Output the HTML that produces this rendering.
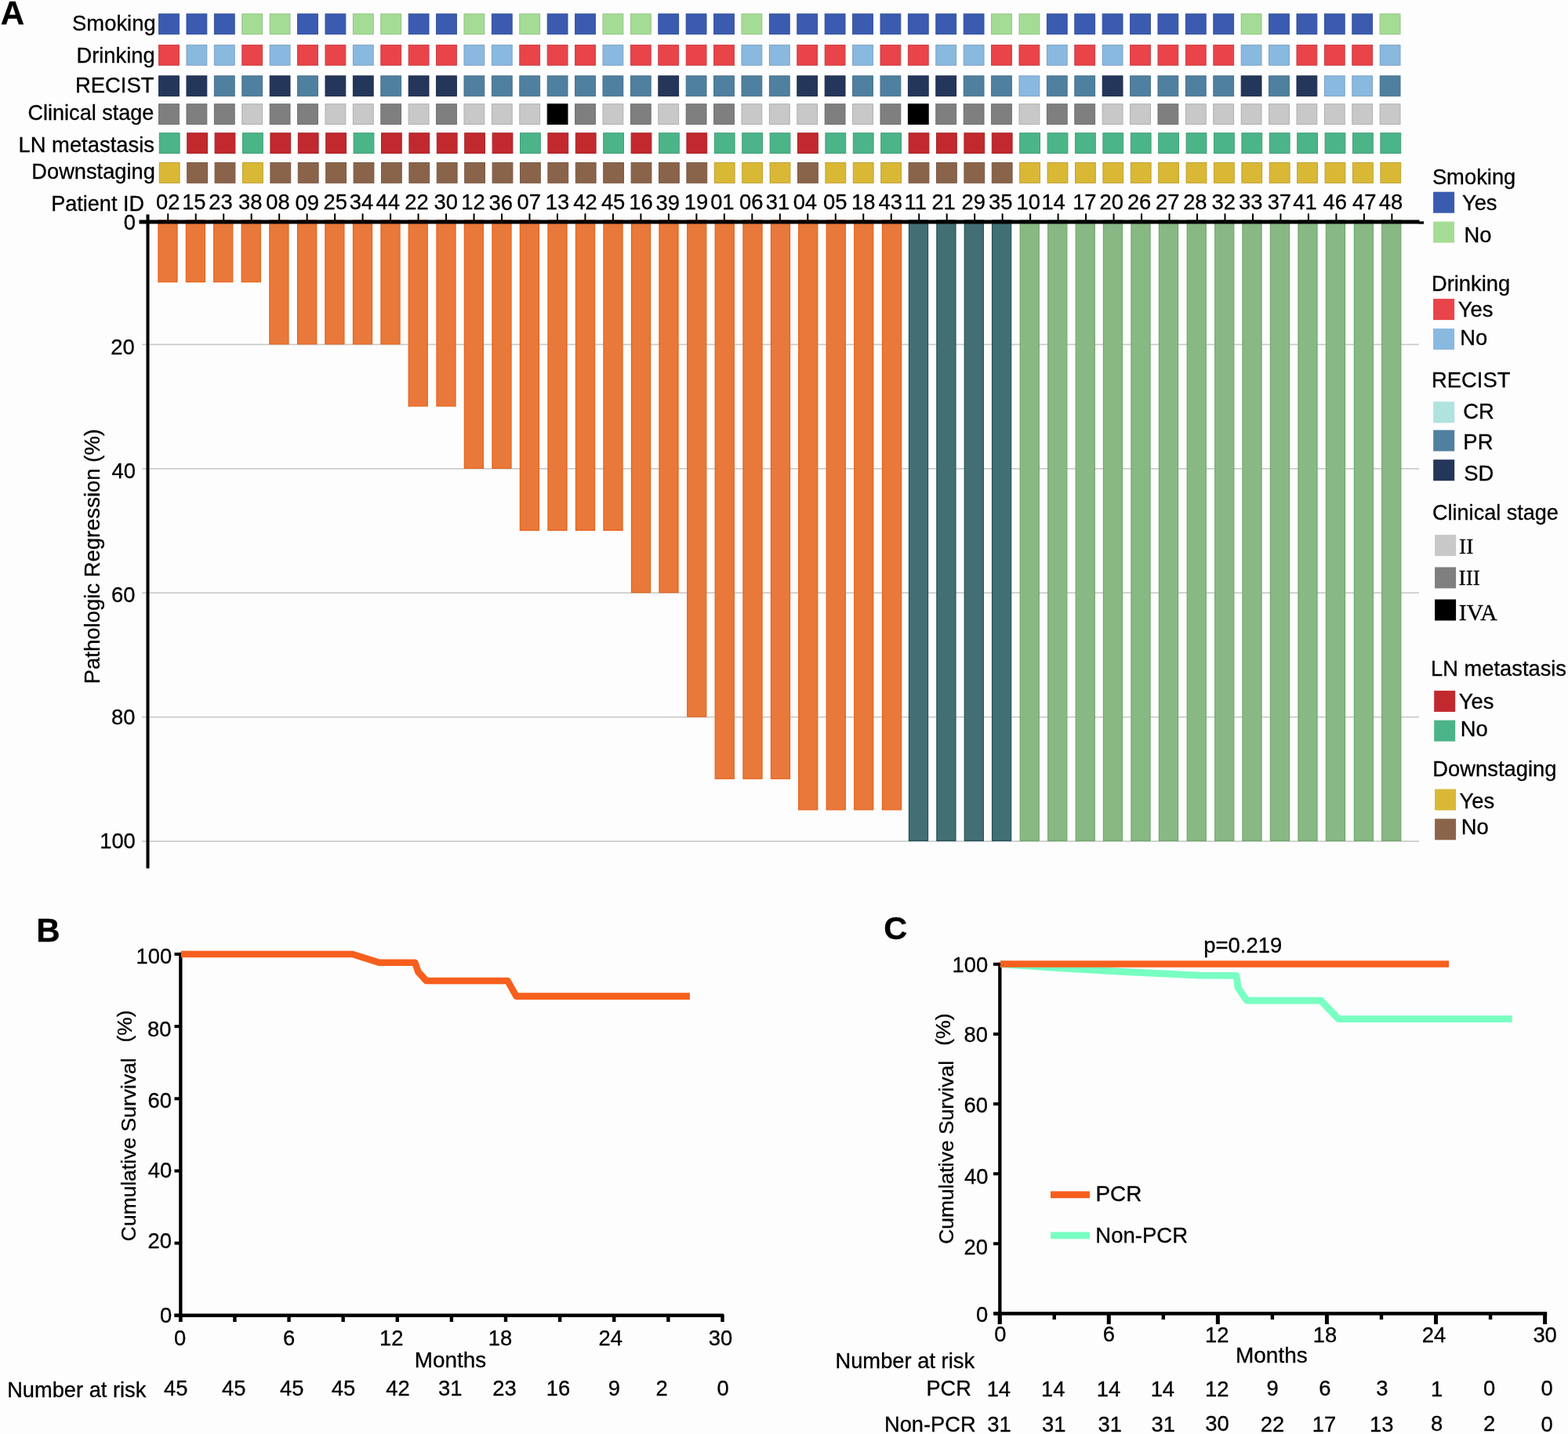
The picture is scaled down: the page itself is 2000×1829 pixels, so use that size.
<!DOCTYPE html>
<html><head><meta charset="utf-8"><title>Figure</title>
<style>
html,body{margin:0;padding:0;background:#fdfdfd;width:2000px;height:1829px;overflow:hidden}
svg{display:block}
text{font-family:'Liberation Sans',Arial,Helvetica,sans-serif;fill:#000;stroke:#000;stroke-width:0.3px}
</style></head><body>
<svg width="2000" height="1829" viewBox="0 0 2000 1829">
<rect x="0" y="0" width="2000" height="1829" fill="#fdfdfd"/>
<text x="0.80" y="30.63" font-size="42.05" font-weight="bold">A</text>
<text x="198.63" y="39.13" font-size="27.38" text-anchor="end">Smoking</text>
<text x="197.71" y="80.03" font-size="27.35" text-anchor="end">Drinking</text>
<text x="196.55" y="117.73" font-size="27.44" text-anchor="end">RECIST</text>
<text x="196.39" y="153.16" font-size="27.05" text-anchor="end">Clinical stage</text>
<text x="196.99" y="193.55" font-size="27.40" text-anchor="end">LN metastasis</text>
<text x="197.86" y="228.03" font-size="27.25" text-anchor="end">Downstaging</text>
<rect x="202.60" y="17.80" width="25.8" height="25.8" fill="#3b5bb0" stroke="#33509a" stroke-width="1"/>
<rect x="238.00" y="17.80" width="25.8" height="25.8" fill="#3b5bb0" stroke="#33509a" stroke-width="1"/>
<rect x="273.40" y="17.80" width="25.8" height="25.8" fill="#3b5bb0" stroke="#33509a" stroke-width="1"/>
<rect x="308.80" y="17.80" width="25.8" height="25.8" fill="#a5dc95" stroke="#91c183" stroke-width="1"/>
<rect x="344.20" y="17.80" width="25.8" height="25.8" fill="#a5dc95" stroke="#91c183" stroke-width="1"/>
<rect x="379.60" y="17.80" width="25.8" height="25.8" fill="#3b5bb0" stroke="#33509a" stroke-width="1"/>
<rect x="415.00" y="17.80" width="25.8" height="25.8" fill="#3b5bb0" stroke="#33509a" stroke-width="1"/>
<rect x="450.40" y="17.80" width="25.8" height="25.8" fill="#a5dc95" stroke="#91c183" stroke-width="1"/>
<rect x="485.80" y="17.80" width="25.8" height="25.8" fill="#a5dc95" stroke="#91c183" stroke-width="1"/>
<rect x="521.20" y="17.80" width="25.8" height="25.8" fill="#3b5bb0" stroke="#33509a" stroke-width="1"/>
<rect x="556.60" y="17.80" width="25.8" height="25.8" fill="#3b5bb0" stroke="#33509a" stroke-width="1"/>
<rect x="592.00" y="17.80" width="25.8" height="25.8" fill="#a5dc95" stroke="#91c183" stroke-width="1"/>
<rect x="627.40" y="17.80" width="25.8" height="25.8" fill="#3b5bb0" stroke="#33509a" stroke-width="1"/>
<rect x="662.80" y="17.80" width="25.8" height="25.8" fill="#a5dc95" stroke="#91c183" stroke-width="1"/>
<rect x="698.20" y="17.80" width="25.8" height="25.8" fill="#3b5bb0" stroke="#33509a" stroke-width="1"/>
<rect x="733.60" y="17.80" width="25.8" height="25.8" fill="#3b5bb0" stroke="#33509a" stroke-width="1"/>
<rect x="769.00" y="17.80" width="25.8" height="25.8" fill="#a5dc95" stroke="#91c183" stroke-width="1"/>
<rect x="804.40" y="17.80" width="25.8" height="25.8" fill="#a5dc95" stroke="#91c183" stroke-width="1"/>
<rect x="839.80" y="17.80" width="25.8" height="25.8" fill="#3b5bb0" stroke="#33509a" stroke-width="1"/>
<rect x="875.20" y="17.80" width="25.8" height="25.8" fill="#3b5bb0" stroke="#33509a" stroke-width="1"/>
<rect x="910.60" y="17.80" width="25.8" height="25.8" fill="#3b5bb0" stroke="#33509a" stroke-width="1"/>
<rect x="946.00" y="17.80" width="25.8" height="25.8" fill="#a5dc95" stroke="#91c183" stroke-width="1"/>
<rect x="981.40" y="17.80" width="25.8" height="25.8" fill="#3b5bb0" stroke="#33509a" stroke-width="1"/>
<rect x="1016.80" y="17.80" width="25.8" height="25.8" fill="#3b5bb0" stroke="#33509a" stroke-width="1"/>
<rect x="1052.20" y="17.80" width="25.8" height="25.8" fill="#3b5bb0" stroke="#33509a" stroke-width="1"/>
<rect x="1087.60" y="17.80" width="25.8" height="25.8" fill="#3b5bb0" stroke="#33509a" stroke-width="1"/>
<rect x="1123.00" y="17.80" width="25.8" height="25.8" fill="#3b5bb0" stroke="#33509a" stroke-width="1"/>
<rect x="1158.40" y="17.80" width="25.8" height="25.8" fill="#3b5bb0" stroke="#33509a" stroke-width="1"/>
<rect x="1193.80" y="17.80" width="25.8" height="25.8" fill="#3b5bb0" stroke="#33509a" stroke-width="1"/>
<rect x="1229.20" y="17.80" width="25.8" height="25.8" fill="#3b5bb0" stroke="#33509a" stroke-width="1"/>
<rect x="1264.60" y="17.80" width="25.8" height="25.8" fill="#a5dc95" stroke="#91c183" stroke-width="1"/>
<rect x="1300.00" y="17.80" width="25.8" height="25.8" fill="#a5dc95" stroke="#91c183" stroke-width="1"/>
<rect x="1335.40" y="17.80" width="25.8" height="25.8" fill="#3b5bb0" stroke="#33509a" stroke-width="1"/>
<rect x="1370.80" y="17.80" width="25.8" height="25.8" fill="#3b5bb0" stroke="#33509a" stroke-width="1"/>
<rect x="1406.20" y="17.80" width="25.8" height="25.8" fill="#3b5bb0" stroke="#33509a" stroke-width="1"/>
<rect x="1441.60" y="17.80" width="25.8" height="25.8" fill="#3b5bb0" stroke="#33509a" stroke-width="1"/>
<rect x="1477.00" y="17.80" width="25.8" height="25.8" fill="#3b5bb0" stroke="#33509a" stroke-width="1"/>
<rect x="1512.40" y="17.80" width="25.8" height="25.8" fill="#3b5bb0" stroke="#33509a" stroke-width="1"/>
<rect x="1547.80" y="17.80" width="25.8" height="25.8" fill="#3b5bb0" stroke="#33509a" stroke-width="1"/>
<rect x="1583.20" y="17.80" width="25.8" height="25.8" fill="#a5dc95" stroke="#91c183" stroke-width="1"/>
<rect x="1618.60" y="17.80" width="25.8" height="25.8" fill="#3b5bb0" stroke="#33509a" stroke-width="1"/>
<rect x="1654.00" y="17.80" width="25.8" height="25.8" fill="#3b5bb0" stroke="#33509a" stroke-width="1"/>
<rect x="1689.40" y="17.80" width="25.8" height="25.8" fill="#3b5bb0" stroke="#33509a" stroke-width="1"/>
<rect x="1724.80" y="17.80" width="25.8" height="25.8" fill="#3b5bb0" stroke="#33509a" stroke-width="1"/>
<rect x="1760.20" y="17.80" width="25.8" height="25.8" fill="#a5dc95" stroke="#91c183" stroke-width="1"/>
<rect x="202.60" y="57.40" width="25.8" height="25.8" fill="#e8444a" stroke="#cc3b41" stroke-width="1"/>
<rect x="238.00" y="57.40" width="25.8" height="25.8" fill="#8ab9e0" stroke="#79a2c5" stroke-width="1"/>
<rect x="273.40" y="57.40" width="25.8" height="25.8" fill="#8ab9e0" stroke="#79a2c5" stroke-width="1"/>
<rect x="308.80" y="57.40" width="25.8" height="25.8" fill="#e8444a" stroke="#cc3b41" stroke-width="1"/>
<rect x="344.20" y="57.40" width="25.8" height="25.8" fill="#8ab9e0" stroke="#79a2c5" stroke-width="1"/>
<rect x="379.60" y="57.40" width="25.8" height="25.8" fill="#e8444a" stroke="#cc3b41" stroke-width="1"/>
<rect x="415.00" y="57.40" width="25.8" height="25.8" fill="#e8444a" stroke="#cc3b41" stroke-width="1"/>
<rect x="450.40" y="57.40" width="25.8" height="25.8" fill="#8ab9e0" stroke="#79a2c5" stroke-width="1"/>
<rect x="485.80" y="57.40" width="25.8" height="25.8" fill="#e8444a" stroke="#cc3b41" stroke-width="1"/>
<rect x="521.20" y="57.40" width="25.8" height="25.8" fill="#e8444a" stroke="#cc3b41" stroke-width="1"/>
<rect x="556.60" y="57.40" width="25.8" height="25.8" fill="#e8444a" stroke="#cc3b41" stroke-width="1"/>
<rect x="592.00" y="57.40" width="25.8" height="25.8" fill="#8ab9e0" stroke="#79a2c5" stroke-width="1"/>
<rect x="627.40" y="57.40" width="25.8" height="25.8" fill="#8ab9e0" stroke="#79a2c5" stroke-width="1"/>
<rect x="662.80" y="57.40" width="25.8" height="25.8" fill="#e8444a" stroke="#cc3b41" stroke-width="1"/>
<rect x="698.20" y="57.40" width="25.8" height="25.8" fill="#e8444a" stroke="#cc3b41" stroke-width="1"/>
<rect x="733.60" y="57.40" width="25.8" height="25.8" fill="#e8444a" stroke="#cc3b41" stroke-width="1"/>
<rect x="769.00" y="57.40" width="25.8" height="25.8" fill="#8ab9e0" stroke="#79a2c5" stroke-width="1"/>
<rect x="804.40" y="57.40" width="25.8" height="25.8" fill="#e8444a" stroke="#cc3b41" stroke-width="1"/>
<rect x="839.80" y="57.40" width="25.8" height="25.8" fill="#e8444a" stroke="#cc3b41" stroke-width="1"/>
<rect x="875.20" y="57.40" width="25.8" height="25.8" fill="#e8444a" stroke="#cc3b41" stroke-width="1"/>
<rect x="910.60" y="57.40" width="25.8" height="25.8" fill="#e8444a" stroke="#cc3b41" stroke-width="1"/>
<rect x="946.00" y="57.40" width="25.8" height="25.8" fill="#8ab9e0" stroke="#79a2c5" stroke-width="1"/>
<rect x="981.40" y="57.40" width="25.8" height="25.8" fill="#8ab9e0" stroke="#79a2c5" stroke-width="1"/>
<rect x="1016.80" y="57.40" width="25.8" height="25.8" fill="#e8444a" stroke="#cc3b41" stroke-width="1"/>
<rect x="1052.20" y="57.40" width="25.8" height="25.8" fill="#e8444a" stroke="#cc3b41" stroke-width="1"/>
<rect x="1087.60" y="57.40" width="25.8" height="25.8" fill="#8ab9e0" stroke="#79a2c5" stroke-width="1"/>
<rect x="1123.00" y="57.40" width="25.8" height="25.8" fill="#e8444a" stroke="#cc3b41" stroke-width="1"/>
<rect x="1158.40" y="57.40" width="25.8" height="25.8" fill="#e8444a" stroke="#cc3b41" stroke-width="1"/>
<rect x="1193.80" y="57.40" width="25.8" height="25.8" fill="#8ab9e0" stroke="#79a2c5" stroke-width="1"/>
<rect x="1229.20" y="57.40" width="25.8" height="25.8" fill="#8ab9e0" stroke="#79a2c5" stroke-width="1"/>
<rect x="1264.60" y="57.40" width="25.8" height="25.8" fill="#e8444a" stroke="#cc3b41" stroke-width="1"/>
<rect x="1300.00" y="57.40" width="25.8" height="25.8" fill="#e8444a" stroke="#cc3b41" stroke-width="1"/>
<rect x="1335.40" y="57.40" width="25.8" height="25.8" fill="#8ab9e0" stroke="#79a2c5" stroke-width="1"/>
<rect x="1370.80" y="57.40" width="25.8" height="25.8" fill="#e8444a" stroke="#cc3b41" stroke-width="1"/>
<rect x="1406.20" y="57.40" width="25.8" height="25.8" fill="#8ab9e0" stroke="#79a2c5" stroke-width="1"/>
<rect x="1441.60" y="57.40" width="25.8" height="25.8" fill="#e8444a" stroke="#cc3b41" stroke-width="1"/>
<rect x="1477.00" y="57.40" width="25.8" height="25.8" fill="#e8444a" stroke="#cc3b41" stroke-width="1"/>
<rect x="1512.40" y="57.40" width="25.8" height="25.8" fill="#e8444a" stroke="#cc3b41" stroke-width="1"/>
<rect x="1547.80" y="57.40" width="25.8" height="25.8" fill="#e8444a" stroke="#cc3b41" stroke-width="1"/>
<rect x="1583.20" y="57.40" width="25.8" height="25.8" fill="#8ab9e0" stroke="#79a2c5" stroke-width="1"/>
<rect x="1618.60" y="57.40" width="25.8" height="25.8" fill="#8ab9e0" stroke="#79a2c5" stroke-width="1"/>
<rect x="1654.00" y="57.40" width="25.8" height="25.8" fill="#e8444a" stroke="#cc3b41" stroke-width="1"/>
<rect x="1689.40" y="57.40" width="25.8" height="25.8" fill="#e8444a" stroke="#cc3b41" stroke-width="1"/>
<rect x="1724.80" y="57.40" width="25.8" height="25.8" fill="#e8444a" stroke="#cc3b41" stroke-width="1"/>
<rect x="1760.20" y="57.40" width="25.8" height="25.8" fill="#8ab9e0" stroke="#79a2c5" stroke-width="1"/>
<rect x="202.60" y="96.80" width="25.8" height="25.8" fill="#243659" stroke="#1f2f4e" stroke-width="1"/>
<rect x="238.00" y="96.80" width="25.8" height="25.8" fill="#243659" stroke="#1f2f4e" stroke-width="1"/>
<rect x="273.40" y="96.80" width="25.8" height="25.8" fill="#50809f" stroke="#46708b" stroke-width="1"/>
<rect x="308.80" y="96.80" width="25.8" height="25.8" fill="#50809f" stroke="#46708b" stroke-width="1"/>
<rect x="344.20" y="96.80" width="25.8" height="25.8" fill="#243659" stroke="#1f2f4e" stroke-width="1"/>
<rect x="379.60" y="96.80" width="25.8" height="25.8" fill="#50809f" stroke="#46708b" stroke-width="1"/>
<rect x="415.00" y="96.80" width="25.8" height="25.8" fill="#243659" stroke="#1f2f4e" stroke-width="1"/>
<rect x="450.40" y="96.80" width="25.8" height="25.8" fill="#243659" stroke="#1f2f4e" stroke-width="1"/>
<rect x="485.80" y="96.80" width="25.8" height="25.8" fill="#50809f" stroke="#46708b" stroke-width="1"/>
<rect x="521.20" y="96.80" width="25.8" height="25.8" fill="#243659" stroke="#1f2f4e" stroke-width="1"/>
<rect x="556.60" y="96.80" width="25.8" height="25.8" fill="#243659" stroke="#1f2f4e" stroke-width="1"/>
<rect x="592.00" y="96.80" width="25.8" height="25.8" fill="#50809f" stroke="#46708b" stroke-width="1"/>
<rect x="627.40" y="96.80" width="25.8" height="25.8" fill="#50809f" stroke="#46708b" stroke-width="1"/>
<rect x="662.80" y="96.80" width="25.8" height="25.8" fill="#50809f" stroke="#46708b" stroke-width="1"/>
<rect x="698.20" y="96.80" width="25.8" height="25.8" fill="#50809f" stroke="#46708b" stroke-width="1"/>
<rect x="733.60" y="96.80" width="25.8" height="25.8" fill="#50809f" stroke="#46708b" stroke-width="1"/>
<rect x="769.00" y="96.80" width="25.8" height="25.8" fill="#50809f" stroke="#46708b" stroke-width="1"/>
<rect x="804.40" y="96.80" width="25.8" height="25.8" fill="#50809f" stroke="#46708b" stroke-width="1"/>
<rect x="839.80" y="96.80" width="25.8" height="25.8" fill="#243659" stroke="#1f2f4e" stroke-width="1"/>
<rect x="875.20" y="96.80" width="25.8" height="25.8" fill="#50809f" stroke="#46708b" stroke-width="1"/>
<rect x="910.60" y="96.80" width="25.8" height="25.8" fill="#50809f" stroke="#46708b" stroke-width="1"/>
<rect x="946.00" y="96.80" width="25.8" height="25.8" fill="#50809f" stroke="#46708b" stroke-width="1"/>
<rect x="981.40" y="96.80" width="25.8" height="25.8" fill="#50809f" stroke="#46708b" stroke-width="1"/>
<rect x="1016.80" y="96.80" width="25.8" height="25.8" fill="#243659" stroke="#1f2f4e" stroke-width="1"/>
<rect x="1052.20" y="96.80" width="25.8" height="25.8" fill="#243659" stroke="#1f2f4e" stroke-width="1"/>
<rect x="1087.60" y="96.80" width="25.8" height="25.8" fill="#50809f" stroke="#46708b" stroke-width="1"/>
<rect x="1123.00" y="96.80" width="25.8" height="25.8" fill="#50809f" stroke="#46708b" stroke-width="1"/>
<rect x="1158.40" y="96.80" width="25.8" height="25.8" fill="#243659" stroke="#1f2f4e" stroke-width="1"/>
<rect x="1193.80" y="96.80" width="25.8" height="25.8" fill="#243659" stroke="#1f2f4e" stroke-width="1"/>
<rect x="1229.20" y="96.80" width="25.8" height="25.8" fill="#50809f" stroke="#46708b" stroke-width="1"/>
<rect x="1264.60" y="96.80" width="25.8" height="25.8" fill="#50809f" stroke="#46708b" stroke-width="1"/>
<rect x="1300.00" y="96.80" width="25.8" height="25.8" fill="#8ab9e0" stroke="#79a2c5" stroke-width="1"/>
<rect x="1335.40" y="96.80" width="25.8" height="25.8" fill="#50809f" stroke="#46708b" stroke-width="1"/>
<rect x="1370.80" y="96.80" width="25.8" height="25.8" fill="#50809f" stroke="#46708b" stroke-width="1"/>
<rect x="1406.20" y="96.80" width="25.8" height="25.8" fill="#243659" stroke="#1f2f4e" stroke-width="1"/>
<rect x="1441.60" y="96.80" width="25.8" height="25.8" fill="#50809f" stroke="#46708b" stroke-width="1"/>
<rect x="1477.00" y="96.80" width="25.8" height="25.8" fill="#50809f" stroke="#46708b" stroke-width="1"/>
<rect x="1512.40" y="96.80" width="25.8" height="25.8" fill="#50809f" stroke="#46708b" stroke-width="1"/>
<rect x="1547.80" y="96.80" width="25.8" height="25.8" fill="#50809f" stroke="#46708b" stroke-width="1"/>
<rect x="1583.20" y="96.80" width="25.8" height="25.8" fill="#243659" stroke="#1f2f4e" stroke-width="1"/>
<rect x="1618.60" y="96.80" width="25.8" height="25.8" fill="#50809f" stroke="#46708b" stroke-width="1"/>
<rect x="1654.00" y="96.80" width="25.8" height="25.8" fill="#243659" stroke="#1f2f4e" stroke-width="1"/>
<rect x="1689.40" y="96.80" width="25.8" height="25.8" fill="#8ab9e0" stroke="#79a2c5" stroke-width="1"/>
<rect x="1724.80" y="96.80" width="25.8" height="25.8" fill="#8ab9e0" stroke="#79a2c5" stroke-width="1"/>
<rect x="1760.20" y="96.80" width="25.8" height="25.8" fill="#50809f" stroke="#46708b" stroke-width="1"/>
<rect x="202.60" y="132.70" width="25.8" height="25.8" fill="#7f7f7f" stroke="#6f6f6f" stroke-width="1"/>
<rect x="238.00" y="132.70" width="25.8" height="25.8" fill="#7f7f7f" stroke="#6f6f6f" stroke-width="1"/>
<rect x="273.40" y="132.70" width="25.8" height="25.8" fill="#7f7f7f" stroke="#6f6f6f" stroke-width="1"/>
<rect x="308.80" y="132.70" width="25.8" height="25.8" fill="#c8c8c8" stroke="#b0b0b0" stroke-width="1"/>
<rect x="344.20" y="132.70" width="25.8" height="25.8" fill="#7f7f7f" stroke="#6f6f6f" stroke-width="1"/>
<rect x="379.60" y="132.70" width="25.8" height="25.8" fill="#7f7f7f" stroke="#6f6f6f" stroke-width="1"/>
<rect x="415.00" y="132.70" width="25.8" height="25.8" fill="#c8c8c8" stroke="#b0b0b0" stroke-width="1"/>
<rect x="450.40" y="132.70" width="25.8" height="25.8" fill="#c8c8c8" stroke="#b0b0b0" stroke-width="1"/>
<rect x="485.80" y="132.70" width="25.8" height="25.8" fill="#7f7f7f" stroke="#6f6f6f" stroke-width="1"/>
<rect x="521.20" y="132.70" width="25.8" height="25.8" fill="#c8c8c8" stroke="#b0b0b0" stroke-width="1"/>
<rect x="556.60" y="132.70" width="25.8" height="25.8" fill="#7f7f7f" stroke="#6f6f6f" stroke-width="1"/>
<rect x="592.00" y="132.70" width="25.8" height="25.8" fill="#c8c8c8" stroke="#b0b0b0" stroke-width="1"/>
<rect x="627.40" y="132.70" width="25.8" height="25.8" fill="#c8c8c8" stroke="#b0b0b0" stroke-width="1"/>
<rect x="662.80" y="132.70" width="25.8" height="25.8" fill="#c8c8c8" stroke="#b0b0b0" stroke-width="1"/>
<rect x="698.20" y="132.70" width="25.8" height="25.8" fill="#000000" stroke="#000000" stroke-width="1"/>
<rect x="733.60" y="132.70" width="25.8" height="25.8" fill="#7f7f7f" stroke="#6f6f6f" stroke-width="1"/>
<rect x="769.00" y="132.70" width="25.8" height="25.8" fill="#c8c8c8" stroke="#b0b0b0" stroke-width="1"/>
<rect x="804.40" y="132.70" width="25.8" height="25.8" fill="#7f7f7f" stroke="#6f6f6f" stroke-width="1"/>
<rect x="839.80" y="132.70" width="25.8" height="25.8" fill="#c8c8c8" stroke="#b0b0b0" stroke-width="1"/>
<rect x="875.20" y="132.70" width="25.8" height="25.8" fill="#7f7f7f" stroke="#6f6f6f" stroke-width="1"/>
<rect x="910.60" y="132.70" width="25.8" height="25.8" fill="#7f7f7f" stroke="#6f6f6f" stroke-width="1"/>
<rect x="946.00" y="132.70" width="25.8" height="25.8" fill="#c8c8c8" stroke="#b0b0b0" stroke-width="1"/>
<rect x="981.40" y="132.70" width="25.8" height="25.8" fill="#c8c8c8" stroke="#b0b0b0" stroke-width="1"/>
<rect x="1016.80" y="132.70" width="25.8" height="25.8" fill="#c8c8c8" stroke="#b0b0b0" stroke-width="1"/>
<rect x="1052.20" y="132.70" width="25.8" height="25.8" fill="#7f7f7f" stroke="#6f6f6f" stroke-width="1"/>
<rect x="1087.60" y="132.70" width="25.8" height="25.8" fill="#c8c8c8" stroke="#b0b0b0" stroke-width="1"/>
<rect x="1123.00" y="132.70" width="25.8" height="25.8" fill="#7f7f7f" stroke="#6f6f6f" stroke-width="1"/>
<rect x="1158.40" y="132.70" width="25.8" height="25.8" fill="#000000" stroke="#000000" stroke-width="1"/>
<rect x="1193.80" y="132.70" width="25.8" height="25.8" fill="#7f7f7f" stroke="#6f6f6f" stroke-width="1"/>
<rect x="1229.20" y="132.70" width="25.8" height="25.8" fill="#7f7f7f" stroke="#6f6f6f" stroke-width="1"/>
<rect x="1264.60" y="132.70" width="25.8" height="25.8" fill="#7f7f7f" stroke="#6f6f6f" stroke-width="1"/>
<rect x="1300.00" y="132.70" width="25.8" height="25.8" fill="#c8c8c8" stroke="#b0b0b0" stroke-width="1"/>
<rect x="1335.40" y="132.70" width="25.8" height="25.8" fill="#7f7f7f" stroke="#6f6f6f" stroke-width="1"/>
<rect x="1370.80" y="132.70" width="25.8" height="25.8" fill="#7f7f7f" stroke="#6f6f6f" stroke-width="1"/>
<rect x="1406.20" y="132.70" width="25.8" height="25.8" fill="#c8c8c8" stroke="#b0b0b0" stroke-width="1"/>
<rect x="1441.60" y="132.70" width="25.8" height="25.8" fill="#c8c8c8" stroke="#b0b0b0" stroke-width="1"/>
<rect x="1477.00" y="132.70" width="25.8" height="25.8" fill="#7f7f7f" stroke="#6f6f6f" stroke-width="1"/>
<rect x="1512.40" y="132.70" width="25.8" height="25.8" fill="#c8c8c8" stroke="#b0b0b0" stroke-width="1"/>
<rect x="1547.80" y="132.70" width="25.8" height="25.8" fill="#c8c8c8" stroke="#b0b0b0" stroke-width="1"/>
<rect x="1583.20" y="132.70" width="25.8" height="25.8" fill="#c8c8c8" stroke="#b0b0b0" stroke-width="1"/>
<rect x="1618.60" y="132.70" width="25.8" height="25.8" fill="#c8c8c8" stroke="#b0b0b0" stroke-width="1"/>
<rect x="1654.00" y="132.70" width="25.8" height="25.8" fill="#c8c8c8" stroke="#b0b0b0" stroke-width="1"/>
<rect x="1689.40" y="132.70" width="25.8" height="25.8" fill="#c8c8c8" stroke="#b0b0b0" stroke-width="1"/>
<rect x="1724.80" y="132.70" width="25.8" height="25.8" fill="#c8c8c8" stroke="#b0b0b0" stroke-width="1"/>
<rect x="1760.20" y="132.70" width="25.8" height="25.8" fill="#c8c8c8" stroke="#b0b0b0" stroke-width="1"/>
<rect x="203.30" y="169.70" width="25.8" height="25.8" fill="#4bb488" stroke="#429e77" stroke-width="1"/>
<rect x="238.70" y="169.70" width="25.8" height="25.8" fill="#c1292e" stroke="#a92428" stroke-width="1"/>
<rect x="274.10" y="169.70" width="25.8" height="25.8" fill="#c1292e" stroke="#a92428" stroke-width="1"/>
<rect x="309.50" y="169.70" width="25.8" height="25.8" fill="#4bb488" stroke="#429e77" stroke-width="1"/>
<rect x="344.90" y="169.70" width="25.8" height="25.8" fill="#c1292e" stroke="#a92428" stroke-width="1"/>
<rect x="380.30" y="169.70" width="25.8" height="25.8" fill="#c1292e" stroke="#a92428" stroke-width="1"/>
<rect x="415.70" y="169.70" width="25.8" height="25.8" fill="#c1292e" stroke="#a92428" stroke-width="1"/>
<rect x="451.10" y="169.70" width="25.8" height="25.8" fill="#4bb488" stroke="#429e77" stroke-width="1"/>
<rect x="486.50" y="169.70" width="25.8" height="25.8" fill="#c1292e" stroke="#a92428" stroke-width="1"/>
<rect x="521.90" y="169.70" width="25.8" height="25.8" fill="#c1292e" stroke="#a92428" stroke-width="1"/>
<rect x="557.30" y="169.70" width="25.8" height="25.8" fill="#c1292e" stroke="#a92428" stroke-width="1"/>
<rect x="592.70" y="169.70" width="25.8" height="25.8" fill="#c1292e" stroke="#a92428" stroke-width="1"/>
<rect x="628.10" y="169.70" width="25.8" height="25.8" fill="#c1292e" stroke="#a92428" stroke-width="1"/>
<rect x="663.50" y="169.70" width="25.8" height="25.8" fill="#4bb488" stroke="#429e77" stroke-width="1"/>
<rect x="698.90" y="169.70" width="25.8" height="25.8" fill="#c1292e" stroke="#a92428" stroke-width="1"/>
<rect x="734.30" y="169.70" width="25.8" height="25.8" fill="#c1292e" stroke="#a92428" stroke-width="1"/>
<rect x="769.70" y="169.70" width="25.8" height="25.8" fill="#4bb488" stroke="#429e77" stroke-width="1"/>
<rect x="805.10" y="169.70" width="25.8" height="25.8" fill="#c1292e" stroke="#a92428" stroke-width="1"/>
<rect x="840.50" y="169.70" width="25.8" height="25.8" fill="#4bb488" stroke="#429e77" stroke-width="1"/>
<rect x="875.90" y="169.70" width="25.8" height="25.8" fill="#c1292e" stroke="#a92428" stroke-width="1"/>
<rect x="911.30" y="169.70" width="25.8" height="25.8" fill="#4bb488" stroke="#429e77" stroke-width="1"/>
<rect x="946.70" y="169.70" width="25.8" height="25.8" fill="#4bb488" stroke="#429e77" stroke-width="1"/>
<rect x="982.10" y="169.70" width="25.8" height="25.8" fill="#4bb488" stroke="#429e77" stroke-width="1"/>
<rect x="1017.50" y="169.70" width="25.8" height="25.8" fill="#c1292e" stroke="#a92428" stroke-width="1"/>
<rect x="1052.90" y="169.70" width="25.8" height="25.8" fill="#4bb488" stroke="#429e77" stroke-width="1"/>
<rect x="1088.30" y="169.70" width="25.8" height="25.8" fill="#4bb488" stroke="#429e77" stroke-width="1"/>
<rect x="1123.70" y="169.70" width="25.8" height="25.8" fill="#4bb488" stroke="#429e77" stroke-width="1"/>
<rect x="1159.10" y="169.70" width="25.8" height="25.8" fill="#c1292e" stroke="#a92428" stroke-width="1"/>
<rect x="1194.50" y="169.70" width="25.8" height="25.8" fill="#c1292e" stroke="#a92428" stroke-width="1"/>
<rect x="1229.90" y="169.70" width="25.8" height="25.8" fill="#c1292e" stroke="#a92428" stroke-width="1"/>
<rect x="1265.30" y="169.70" width="25.8" height="25.8" fill="#c1292e" stroke="#a92428" stroke-width="1"/>
<rect x="1300.70" y="169.70" width="25.8" height="25.8" fill="#4bb488" stroke="#429e77" stroke-width="1"/>
<rect x="1336.10" y="169.70" width="25.8" height="25.8" fill="#4bb488" stroke="#429e77" stroke-width="1"/>
<rect x="1371.50" y="169.70" width="25.8" height="25.8" fill="#4bb488" stroke="#429e77" stroke-width="1"/>
<rect x="1406.90" y="169.70" width="25.8" height="25.8" fill="#4bb488" stroke="#429e77" stroke-width="1"/>
<rect x="1442.30" y="169.70" width="25.8" height="25.8" fill="#4bb488" stroke="#429e77" stroke-width="1"/>
<rect x="1477.70" y="169.70" width="25.8" height="25.8" fill="#4bb488" stroke="#429e77" stroke-width="1"/>
<rect x="1513.10" y="169.70" width="25.8" height="25.8" fill="#4bb488" stroke="#429e77" stroke-width="1"/>
<rect x="1548.50" y="169.70" width="25.8" height="25.8" fill="#4bb488" stroke="#429e77" stroke-width="1"/>
<rect x="1583.90" y="169.70" width="25.8" height="25.8" fill="#4bb488" stroke="#429e77" stroke-width="1"/>
<rect x="1619.30" y="169.70" width="25.8" height="25.8" fill="#4bb488" stroke="#429e77" stroke-width="1"/>
<rect x="1654.70" y="169.70" width="25.8" height="25.8" fill="#4bb488" stroke="#429e77" stroke-width="1"/>
<rect x="1690.10" y="169.70" width="25.8" height="25.8" fill="#4bb488" stroke="#429e77" stroke-width="1"/>
<rect x="1725.50" y="169.70" width="25.8" height="25.8" fill="#4bb488" stroke="#429e77" stroke-width="1"/>
<rect x="1760.90" y="169.70" width="25.8" height="25.8" fill="#4bb488" stroke="#429e77" stroke-width="1"/>
<rect x="203.30" y="207.50" width="25.8" height="25.8" fill="#d9b836" stroke="#bea12f" stroke-width="1"/>
<rect x="238.70" y="207.50" width="25.8" height="25.8" fill="#8a644a" stroke="#795841" stroke-width="1"/>
<rect x="274.10" y="207.50" width="25.8" height="25.8" fill="#8a644a" stroke="#795841" stroke-width="1"/>
<rect x="309.50" y="207.50" width="25.8" height="25.8" fill="#d9b836" stroke="#bea12f" stroke-width="1"/>
<rect x="344.90" y="207.50" width="25.8" height="25.8" fill="#8a644a" stroke="#795841" stroke-width="1"/>
<rect x="380.30" y="207.50" width="25.8" height="25.8" fill="#8a644a" stroke="#795841" stroke-width="1"/>
<rect x="415.70" y="207.50" width="25.8" height="25.8" fill="#8a644a" stroke="#795841" stroke-width="1"/>
<rect x="451.10" y="207.50" width="25.8" height="25.8" fill="#8a644a" stroke="#795841" stroke-width="1"/>
<rect x="486.50" y="207.50" width="25.8" height="25.8" fill="#8a644a" stroke="#795841" stroke-width="1"/>
<rect x="521.90" y="207.50" width="25.8" height="25.8" fill="#8a644a" stroke="#795841" stroke-width="1"/>
<rect x="557.30" y="207.50" width="25.8" height="25.8" fill="#8a644a" stroke="#795841" stroke-width="1"/>
<rect x="592.70" y="207.50" width="25.8" height="25.8" fill="#8a644a" stroke="#795841" stroke-width="1"/>
<rect x="628.10" y="207.50" width="25.8" height="25.8" fill="#8a644a" stroke="#795841" stroke-width="1"/>
<rect x="663.50" y="207.50" width="25.8" height="25.8" fill="#8a644a" stroke="#795841" stroke-width="1"/>
<rect x="698.90" y="207.50" width="25.8" height="25.8" fill="#8a644a" stroke="#795841" stroke-width="1"/>
<rect x="734.30" y="207.50" width="25.8" height="25.8" fill="#8a644a" stroke="#795841" stroke-width="1"/>
<rect x="769.70" y="207.50" width="25.8" height="25.8" fill="#8a644a" stroke="#795841" stroke-width="1"/>
<rect x="805.10" y="207.50" width="25.8" height="25.8" fill="#8a644a" stroke="#795841" stroke-width="1"/>
<rect x="840.50" y="207.50" width="25.8" height="25.8" fill="#8a644a" stroke="#795841" stroke-width="1"/>
<rect x="875.90" y="207.50" width="25.8" height="25.8" fill="#8a644a" stroke="#795841" stroke-width="1"/>
<rect x="911.30" y="207.50" width="25.8" height="25.8" fill="#d9b836" stroke="#bea12f" stroke-width="1"/>
<rect x="946.70" y="207.50" width="25.8" height="25.8" fill="#d9b836" stroke="#bea12f" stroke-width="1"/>
<rect x="982.10" y="207.50" width="25.8" height="25.8" fill="#d9b836" stroke="#bea12f" stroke-width="1"/>
<rect x="1017.50" y="207.50" width="25.8" height="25.8" fill="#8a644a" stroke="#795841" stroke-width="1"/>
<rect x="1052.90" y="207.50" width="25.8" height="25.8" fill="#d9b836" stroke="#bea12f" stroke-width="1"/>
<rect x="1088.30" y="207.50" width="25.8" height="25.8" fill="#d9b836" stroke="#bea12f" stroke-width="1"/>
<rect x="1123.70" y="207.50" width="25.8" height="25.8" fill="#d9b836" stroke="#bea12f" stroke-width="1"/>
<rect x="1159.10" y="207.50" width="25.8" height="25.8" fill="#8a644a" stroke="#795841" stroke-width="1"/>
<rect x="1194.50" y="207.50" width="25.8" height="25.8" fill="#8a644a" stroke="#795841" stroke-width="1"/>
<rect x="1229.90" y="207.50" width="25.8" height="25.8" fill="#8a644a" stroke="#795841" stroke-width="1"/>
<rect x="1265.30" y="207.50" width="25.8" height="25.8" fill="#8a644a" stroke="#795841" stroke-width="1"/>
<rect x="1300.70" y="207.50" width="25.8" height="25.8" fill="#d9b836" stroke="#bea12f" stroke-width="1"/>
<rect x="1336.10" y="207.50" width="25.8" height="25.8" fill="#d9b836" stroke="#bea12f" stroke-width="1"/>
<rect x="1371.50" y="207.50" width="25.8" height="25.8" fill="#d9b836" stroke="#bea12f" stroke-width="1"/>
<rect x="1406.90" y="207.50" width="25.8" height="25.8" fill="#d9b836" stroke="#bea12f" stroke-width="1"/>
<rect x="1442.30" y="207.50" width="25.8" height="25.8" fill="#d9b836" stroke="#bea12f" stroke-width="1"/>
<rect x="1477.70" y="207.50" width="25.8" height="25.8" fill="#d9b836" stroke="#bea12f" stroke-width="1"/>
<rect x="1513.10" y="207.50" width="25.8" height="25.8" fill="#d9b836" stroke="#bea12f" stroke-width="1"/>
<rect x="1548.50" y="207.50" width="25.8" height="25.8" fill="#d9b836" stroke="#bea12f" stroke-width="1"/>
<rect x="1583.90" y="207.50" width="25.8" height="25.8" fill="#d9b836" stroke="#bea12f" stroke-width="1"/>
<rect x="1619.30" y="207.50" width="25.8" height="25.8" fill="#d9b836" stroke="#bea12f" stroke-width="1"/>
<rect x="1654.70" y="207.50" width="25.8" height="25.8" fill="#d9b836" stroke="#bea12f" stroke-width="1"/>
<rect x="1690.10" y="207.50" width="25.8" height="25.8" fill="#d9b836" stroke="#bea12f" stroke-width="1"/>
<rect x="1725.50" y="207.50" width="25.8" height="25.8" fill="#d9b836" stroke="#bea12f" stroke-width="1"/>
<rect x="1760.90" y="207.50" width="25.8" height="25.8" fill="#d9b836" stroke="#bea12f" stroke-width="1"/>
<text x="184.00" y="269.23" font-size="27.07" text-anchor="end">Patient ID</text>
<text x="214.29" y="266.92" font-size="27.40" text-anchor="middle">02</text>
<text x="247.38" y="267.35" font-size="27.40" text-anchor="middle">15</text>
<text x="281.49" y="266.90" font-size="27.40" text-anchor="middle">23</text>
<text x="319.25" y="267.10" font-size="27.40" text-anchor="middle">38</text>
<text x="354.56" y="266.93" font-size="27.40" text-anchor="middle">08</text>
<text x="391.66" y="267.59" font-size="27.40" text-anchor="middle">09</text>
<text x="427.72" y="267.35" font-size="27.40" text-anchor="middle">25</text>
<text x="461.10" y="267.35" font-size="27.40" text-anchor="middle">34</text>
<text x="494.79" y="267.35" font-size="27.40" text-anchor="middle">44</text>
<text x="531.41" y="266.96" font-size="27.40" text-anchor="middle">22</text>
<text x="568.74" y="266.92" font-size="27.40" text-anchor="middle">30</text>
<text x="603.53" y="267.35" font-size="27.40" text-anchor="middle">12</text>
<text x="638.75" y="267.67" font-size="27.40" text-anchor="middle">36</text>
<text x="674.84" y="267.35" font-size="27.40" text-anchor="middle">07</text>
<text x="710.98" y="267.35" font-size="27.40" text-anchor="middle">13</text>
<text x="746.55" y="267.35" font-size="27.40" text-anchor="middle">42</text>
<text x="782.13" y="267.35" font-size="27.40" text-anchor="middle">45</text>
<text x="817.42" y="267.35" font-size="27.40" text-anchor="middle">16</text>
<text x="851.77" y="267.67" font-size="27.40" text-anchor="middle">39</text>
<text x="888.01" y="267.35" font-size="27.40" text-anchor="middle">19</text>
<text x="921.38" y="267.35" font-size="27.40" text-anchor="middle">01</text>
<text x="958.26" y="266.91" font-size="27.40" text-anchor="middle">06</text>
<text x="992.09" y="267.35" font-size="27.40" text-anchor="middle">31</text>
<text x="1026.86" y="267.35" font-size="27.40" text-anchor="middle">04</text>
<text x="1065.17" y="267.35" font-size="27.40" text-anchor="middle">05</text>
<text x="1101.31" y="267.35" font-size="27.40" text-anchor="middle">18</text>
<text x="1135.66" y="267.35" font-size="27.40" text-anchor="middle">43</text>
<text x="1167.73" y="267.35" font-size="27.40" text-anchor="middle">11</text>
<text x="1203.64" y="267.35" font-size="27.40" text-anchor="middle">21</text>
<text x="1241.67" y="266.91" font-size="27.40" text-anchor="middle">29</text>
<text x="1276.33" y="267.35" font-size="27.40" text-anchor="middle">35</text>
<text x="1311.84" y="267.35" font-size="27.40" text-anchor="middle">10</text>
<text x="1343.63" y="267.35" font-size="27.40" text-anchor="middle">14</text>
<text x="1383.38" y="267.35" font-size="27.40" text-anchor="middle">17</text>
<text x="1417.67" y="266.93" font-size="27.40" text-anchor="middle">20</text>
<text x="1453.13" y="267.09" font-size="27.40" text-anchor="middle">26</text>
<text x="1489.28" y="267.35" font-size="27.40" text-anchor="middle">27</text>
<text x="1524.37" y="266.99" font-size="27.40" text-anchor="middle">28</text>
<text x="1560.80" y="267.09" font-size="27.40" text-anchor="middle">32</text>
<text x="1595.32" y="267.09" font-size="27.40" text-anchor="middle">33</text>
<text x="1631.86" y="267.35" font-size="27.40" text-anchor="middle">37</text>
<text x="1664.50" y="267.35" font-size="27.40" text-anchor="middle">41</text>
<text x="1702.65" y="267.35" font-size="27.40" text-anchor="middle">46</text>
<text x="1740.19" y="267.35" font-size="27.40" text-anchor="middle">47</text>
<text x="1774.09" y="267.35" font-size="27.40" text-anchor="middle">48</text>
<rect x="181" y="438.60" width="1629" height="1.6" fill="#c8c8c8"/>
<rect x="181" y="597.00" width="1629" height="1.6" fill="#c8c8c8"/>
<rect x="181" y="755.40" width="1629" height="1.6" fill="#c8c8c8"/>
<rect x="181" y="913.80" width="1629" height="1.6" fill="#c8c8c8"/>
<rect x="181" y="1072.20" width="1629" height="1.6" fill="#c8c8c8"/>
<rect x="201.95" y="281.00" width="24.10" height="78.60" fill="#e8793a" stroke="#e8611a" stroke-width="1.2"/>
<rect x="237.35" y="281.00" width="24.10" height="78.60" fill="#e8793a" stroke="#e8611a" stroke-width="1.2"/>
<rect x="272.70" y="281.00" width="24.10" height="78.60" fill="#e8793a" stroke="#e8611a" stroke-width="1.2"/>
<rect x="308.20" y="281.00" width="24.10" height="78.60" fill="#e8793a" stroke="#e8611a" stroke-width="1.2"/>
<rect x="343.85" y="281.00" width="24.10" height="157.80" fill="#e8793a" stroke="#e8611a" stroke-width="1.2"/>
<rect x="379.55" y="281.00" width="24.10" height="157.80" fill="#e8793a" stroke="#e8611a" stroke-width="1.2"/>
<rect x="414.85" y="281.00" width="24.10" height="157.80" fill="#e8793a" stroke="#e8611a" stroke-width="1.2"/>
<rect x="450.45" y="281.00" width="24.10" height="157.80" fill="#e8793a" stroke="#e8611a" stroke-width="1.2"/>
<rect x="485.95" y="281.00" width="24.10" height="157.80" fill="#e8793a" stroke="#e8611a" stroke-width="1.2"/>
<rect x="521.20" y="281.00" width="24.10" height="237.00" fill="#e8793a" stroke="#e8611a" stroke-width="1.2"/>
<rect x="556.95" y="281.00" width="24.10" height="237.00" fill="#e8793a" stroke="#e8611a" stroke-width="1.2"/>
<rect x="592.35" y="281.00" width="24.10" height="316.20" fill="#e8793a" stroke="#e8611a" stroke-width="1.2"/>
<rect x="627.95" y="281.00" width="24.10" height="316.20" fill="#e8793a" stroke="#e8611a" stroke-width="1.2"/>
<rect x="663.35" y="281.00" width="24.10" height="395.40" fill="#e8793a" stroke="#e8611a" stroke-width="1.2"/>
<rect x="698.95" y="281.00" width="24.10" height="395.40" fill="#e8793a" stroke="#e8611a" stroke-width="1.2"/>
<rect x="734.45" y="281.00" width="24.10" height="395.40" fill="#e8793a" stroke="#e8611a" stroke-width="1.2"/>
<rect x="769.95" y="281.00" width="24.10" height="395.40" fill="#e8793a" stroke="#e8611a" stroke-width="1.2"/>
<rect x="805.45" y="281.00" width="24.10" height="474.60" fill="#e8793a" stroke="#e8611a" stroke-width="1.2"/>
<rect x="840.95" y="281.00" width="24.10" height="474.60" fill="#e8793a" stroke="#e8611a" stroke-width="1.2"/>
<rect x="876.70" y="281.00" width="24.10" height="633.00" fill="#e8793a" stroke="#e8611a" stroke-width="1.2"/>
<rect x="912.20" y="281.00" width="24.10" height="712.20" fill="#e8793a" stroke="#e8611a" stroke-width="1.2"/>
<rect x="947.95" y="281.00" width="24.10" height="712.20" fill="#e8793a" stroke="#e8611a" stroke-width="1.2"/>
<rect x="983.45" y="281.00" width="24.10" height="712.20" fill="#e8793a" stroke="#e8611a" stroke-width="1.2"/>
<rect x="1018.70" y="281.00" width="24.10" height="751.80" fill="#e8793a" stroke="#e8611a" stroke-width="1.2"/>
<rect x="1054.20" y="281.00" width="24.10" height="751.80" fill="#e8793a" stroke="#e8611a" stroke-width="1.2"/>
<rect x="1089.70" y="281.00" width="24.10" height="751.80" fill="#e8793a" stroke="#e8611a" stroke-width="1.2"/>
<rect x="1125.45" y="281.00" width="24.10" height="751.80" fill="#e8793a" stroke="#e8611a" stroke-width="1.2"/>
<rect x="1159.45" y="281.00" width="24.10" height="791.40" fill="#416f74" stroke="#24535a" stroke-width="1.2"/>
<rect x="1194.85" y="281.00" width="24.10" height="791.40" fill="#416f74" stroke="#24535a" stroke-width="1.2"/>
<rect x="1230.25" y="281.00" width="24.10" height="791.40" fill="#416f74" stroke="#24535a" stroke-width="1.2"/>
<rect x="1265.55" y="281.00" width="24.10" height="791.40" fill="#416f74" stroke="#24535a" stroke-width="1.2"/>
<rect x="1301.20" y="281.00" width="24.10" height="791.40" fill="#88b984" stroke="#70a86c" stroke-width="1.2"/>
<rect x="1336.70" y="281.00" width="24.10" height="791.40" fill="#88b984" stroke="#70a86c" stroke-width="1.2"/>
<rect x="1372.20" y="281.00" width="24.10" height="791.40" fill="#88b984" stroke="#70a86c" stroke-width="1.2"/>
<rect x="1407.45" y="281.00" width="24.10" height="791.40" fill="#88b984" stroke="#70a86c" stroke-width="1.2"/>
<rect x="1442.95" y="281.00" width="24.10" height="791.40" fill="#88b984" stroke="#70a86c" stroke-width="1.2"/>
<rect x="1478.45" y="281.00" width="24.10" height="791.40" fill="#88b984" stroke="#70a86c" stroke-width="1.2"/>
<rect x="1514.20" y="281.00" width="24.10" height="791.40" fill="#88b984" stroke="#70a86c" stroke-width="1.2"/>
<rect x="1549.70" y="281.00" width="24.10" height="791.40" fill="#88b984" stroke="#70a86c" stroke-width="1.2"/>
<rect x="1584.95" y="281.00" width="24.10" height="791.40" fill="#88b984" stroke="#70a86c" stroke-width="1.2"/>
<rect x="1620.45" y="281.00" width="24.10" height="791.40" fill="#88b984" stroke="#70a86c" stroke-width="1.2"/>
<rect x="1655.95" y="281.00" width="24.10" height="791.40" fill="#88b984" stroke="#70a86c" stroke-width="1.2"/>
<rect x="1691.45" y="281.00" width="24.10" height="791.40" fill="#88b984" stroke="#70a86c" stroke-width="1.2"/>
<rect x="1727.35" y="281.00" width="24.10" height="791.40" fill="#88b984" stroke="#70a86c" stroke-width="1.2"/>
<rect x="1762.70" y="281.00" width="24.10" height="791.40" fill="#88b984" stroke="#70a86c" stroke-width="1.2"/>
<rect x="186.5" y="273.5" width="4" height="834" fill="#000"/>
<rect x="177.5" y="280.5" width="1633" height="5" fill="#000"/>
<rect x="1810" y="282.3" width="6" height="3.4" fill="#000"/>
<rect x="213.25" y="272.4" width="2" height="9" fill="#000"/>
<rect x="248.73" y="272.4" width="2" height="9" fill="#000"/>
<rect x="284.21" y="272.4" width="2" height="9" fill="#000"/>
<rect x="319.69" y="272.4" width="2" height="9" fill="#000"/>
<rect x="355.17" y="272.4" width="2" height="9" fill="#000"/>
<rect x="390.65" y="272.4" width="2" height="9" fill="#000"/>
<rect x="426.13" y="272.4" width="2" height="9" fill="#000"/>
<rect x="461.61" y="272.4" width="2" height="9" fill="#000"/>
<rect x="497.09" y="272.4" width="2" height="9" fill="#000"/>
<rect x="532.57" y="272.4" width="2" height="9" fill="#000"/>
<rect x="568.05" y="272.4" width="2" height="9" fill="#000"/>
<rect x="603.53" y="272.4" width="2" height="9" fill="#000"/>
<rect x="639.01" y="272.4" width="2" height="9" fill="#000"/>
<rect x="674.49" y="272.4" width="2" height="9" fill="#000"/>
<rect x="709.97" y="272.4" width="2" height="9" fill="#000"/>
<rect x="745.45" y="272.4" width="2" height="9" fill="#000"/>
<rect x="780.93" y="272.4" width="2" height="9" fill="#000"/>
<rect x="816.41" y="272.4" width="2" height="9" fill="#000"/>
<rect x="851.89" y="272.4" width="2" height="9" fill="#000"/>
<rect x="887.37" y="272.4" width="2" height="9" fill="#000"/>
<rect x="922.85" y="272.4" width="2" height="9" fill="#000"/>
<rect x="958.33" y="272.4" width="2" height="9" fill="#000"/>
<rect x="993.81" y="272.4" width="2" height="9" fill="#000"/>
<rect x="1029.29" y="272.4" width="2" height="9" fill="#000"/>
<rect x="1064.77" y="272.4" width="2" height="9" fill="#000"/>
<rect x="1100.25" y="272.4" width="2" height="9" fill="#000"/>
<rect x="1135.73" y="272.4" width="2" height="9" fill="#000"/>
<rect x="1171.21" y="272.4" width="2" height="9" fill="#000"/>
<rect x="1206.69" y="272.4" width="2" height="9" fill="#000"/>
<rect x="1242.17" y="272.4" width="2" height="9" fill="#000"/>
<rect x="1277.65" y="272.4" width="2" height="9" fill="#000"/>
<rect x="1313.13" y="272.4" width="2" height="9" fill="#000"/>
<rect x="1348.61" y="272.4" width="2" height="9" fill="#000"/>
<rect x="1384.09" y="272.4" width="2" height="9" fill="#000"/>
<rect x="1419.57" y="272.4" width="2" height="9" fill="#000"/>
<rect x="1455.05" y="272.4" width="2" height="9" fill="#000"/>
<rect x="1490.53" y="272.4" width="2" height="9" fill="#000"/>
<rect x="1526.01" y="272.4" width="2" height="9" fill="#000"/>
<rect x="1561.49" y="272.4" width="2" height="9" fill="#000"/>
<rect x="1596.97" y="272.4" width="2" height="9" fill="#000"/>
<rect x="1632.45" y="272.4" width="2" height="9" fill="#000"/>
<rect x="1667.93" y="272.4" width="2" height="9" fill="#000"/>
<rect x="1703.41" y="272.4" width="2" height="9" fill="#000"/>
<rect x="1738.89" y="272.4" width="2" height="9" fill="#000"/>
<rect x="1774.37" y="272.4" width="2" height="9" fill="#000"/>
<text x="172.95" y="293.43" font-size="27.40" text-anchor="end">0</text>
<text x="171.82" y="451.53" font-size="27.40" text-anchor="end">20</text>
<text x="172.96" y="609.75" font-size="27.40" text-anchor="end">40</text>
<text x="172.43" y="767.73" font-size="27.40" text-anchor="end">60</text>
<text x="172.38" y="923.95" font-size="27.40" text-anchor="end">80</text>
<text x="172.86" y="1082.23" font-size="27.40" text-anchor="end">100</text>
<text x="0" y="0" font-size="27.47" text-anchor="middle" transform="translate(127.17,709.63) rotate(-90)">Pathologic Regression (%)</text>
<text x="1826.88" y="234.67" font-size="27.37">Smoking</text>
<rect x="1828.10" y="244.70" width="27.00" height="27.00" fill="#3b5bb0"/>
<text x="1864.89" y="267.71" font-size="27.40">Yes</text>
<rect x="1828.10" y="282.60" width="27.00" height="27.00" fill="#a5dc95"/>
<text x="1867.45" y="309.01" font-size="27.40">No</text>
<text x="1825.93" y="371.43" font-size="27.34">Drinking</text>
<rect x="1828.10" y="381.10" width="27.00" height="27.00" fill="#e8444a"/>
<text x="1859.72" y="404.35" font-size="27.40">Yes</text>
<rect x="1828.10" y="419.00" width="27.00" height="27.00" fill="#8ab9e0"/>
<text x="1862.31" y="439.85" font-size="27.40">No</text>
<text x="1825.94" y="493.55" font-size="27.41">RECIST</text>
<rect x="1828.20" y="512.30" width="27.00" height="27.00" fill="#b0e3de"/>
<text x="1866.27" y="534.27" font-size="27.40">CR</text>
<rect x="1828.20" y="548.50" width="27.00" height="27.00" fill="#50809f"/>
<text x="1866.37" y="573.17" font-size="27.40">PR</text>
<rect x="1828.20" y="586.20" width="27.00" height="27.00" fill="#243659"/>
<text x="1867.19" y="612.95" font-size="27.40">SD</text>
<text x="1827.04" y="663.05" font-size="27.05">Clinical stage</text>
<rect x="1830.10" y="682.10" width="27.00" height="27.00" fill="#c8c8c8"/>
<text x="1861.05" y="706.25" font-size="27.40" style="font-family:'Liberation Serif','Times New Roman',Times,serif">II</text>
<rect x="1830.10" y="723.40" width="27.00" height="27.00" fill="#7f7f7f"/>
<text x="1860.56" y="746.01" font-size="27.40" style="font-family:'Liberation Serif','Times New Roman',Times,serif">III</text>
<rect x="1830.10" y="764.50" width="27.00" height="27.00" fill="#000000"/>
<text x="1860.75" y="790.73" font-size="29.67" style="font-family:'Liberation Serif','Times New Roman',Times,serif">IVA</text>
<text x="1825.09" y="862.33" font-size="27.30">LN metastasis</text>
<rect x="1829.20" y="880.90" width="27.00" height="27.00" fill="#c1292e"/>
<text x="1860.70" y="904.33" font-size="27.40">Yes</text>
<rect x="1829.20" y="918.60" width="27.00" height="27.00" fill="#4bb488"/>
<text x="1862.82" y="939.11" font-size="27.40">No</text>
<text x="1827.27" y="990.25" font-size="27.36">Downstaging</text>
<rect x="1830.10" y="1006.50" width="27.00" height="27.00" fill="#d9b836"/>
<text x="1861.51" y="1030.79" font-size="27.40">Yes</text>
<rect x="1830.10" y="1044.30" width="27.00" height="27.00" fill="#8a644a"/>
<text x="1863.76" y="1064.45" font-size="27.40">No</text>
<text x="46.27" y="1200.53" font-size="42.02" font-weight="bold">B</text>
<rect x="228.2" y="1214.8" width="4.3" height="471.20" fill="#000"/>
<rect x="222.5" y="1675.5" width="700.70" height="4.5" fill="#000"/>
<rect x="222.5" y="1675.75" width="8" height="4" fill="#000"/>
<text x="219.35" y="1687.10" font-size="27.40" text-anchor="end">0</text>
<rect x="222.5" y="1583.60" width="8" height="4" fill="#000"/>
<text x="218.90" y="1592.40" font-size="27.40" text-anchor="end">20</text>
<rect x="222.5" y="1491.45" width="8" height="4" fill="#000"/>
<text x="219.34" y="1502.28" font-size="27.40" text-anchor="end">40</text>
<rect x="222.5" y="1399.30" width="8" height="4" fill="#000"/>
<text x="218.91" y="1412.63" font-size="27.40" text-anchor="end">60</text>
<rect x="222.5" y="1307.15" width="8" height="4" fill="#000"/>
<text x="218.57" y="1322.08" font-size="27.40" text-anchor="end">80</text>
<rect x="222.5" y="1215.00" width="8" height="4" fill="#000"/>
<text x="219.15" y="1228.63" font-size="27.40" text-anchor="end">100</text>
<rect x="228.10" y="1677" width="4.4" height="9" fill="#000"/>
<rect x="297.22" y="1677" width="4.4" height="9" fill="#000"/>
<rect x="366.34" y="1677" width="4.4" height="9" fill="#000"/>
<rect x="435.46" y="1677" width="4.4" height="9" fill="#000"/>
<rect x="504.58" y="1677" width="4.4" height="9" fill="#000"/>
<rect x="573.70" y="1677" width="4.4" height="9" fill="#000"/>
<rect x="642.82" y="1677" width="4.4" height="9" fill="#000"/>
<rect x="711.94" y="1677" width="4.4" height="9" fill="#000"/>
<rect x="781.06" y="1677" width="4.4" height="9" fill="#000"/>
<rect x="850.18" y="1677" width="4.4" height="9" fill="#000"/>
<rect x="919.30" y="1677" width="4.4" height="9" fill="#000"/>
<text x="229.67" y="1716.15" font-size="27.40" text-anchor="middle">0</text>
<text x="368.71" y="1716.33" font-size="27.40" text-anchor="middle">6</text>
<text x="499.18" y="1716.03" font-size="27.40" text-anchor="middle">12</text>
<text x="638.04" y="1716.03" font-size="27.40" text-anchor="middle">18</text>
<text x="778.74" y="1716.03" font-size="27.40" text-anchor="middle">24</text>
<text x="919.00" y="1715.76" font-size="27.40" text-anchor="middle">30</text>
<text x="574.54" y="1744.45" font-size="27.88" text-anchor="middle">Months</text>
<text x="0" y="0" font-size="26.48" transform="translate(172.65,1583.17) rotate(-90)">Cumulative Survival</text>
<text x="0" y="0" font-size="26.42" transform="translate(168.38,1329.47) rotate(-90)">(%)</text>
<text x="9.18" y="1781.63" font-size="27.26">Number at risk</text>
<text x="224.28" y="1780.03" font-size="27.40" text-anchor="middle">45</text>
<text x="298.33" y="1780.03" font-size="27.40" text-anchor="middle">45</text>
<text x="372.35" y="1780.03" font-size="27.40" text-anchor="middle">45</text>
<text x="437.95" y="1780.03" font-size="27.40" text-anchor="middle">45</text>
<text x="507.59" y="1780.03" font-size="27.40" text-anchor="middle">42</text>
<text x="574.26" y="1780.03" font-size="27.40" text-anchor="middle">31</text>
<text x="643.54" y="1780.37" font-size="27.40" text-anchor="middle">23</text>
<text x="711.98" y="1780.03" font-size="27.40" text-anchor="middle">16</text>
<text x="783.32" y="1780.12" font-size="27.40" text-anchor="middle">9</text>
<text x="844.01" y="1780.43" font-size="27.40" text-anchor="middle">2</text>
<text x="922.01" y="1780.15" font-size="27.40" text-anchor="middle">0</text>
<polyline fill="none" stroke="#f65f1d" stroke-width="8.6" stroke-linejoin="round" points="231,1217 449.5,1217 483.3,1227.7 529.3,1227.7 533.4,1239.5 543.8,1251 647.5,1251 658.5,1270.6 879.9,1270.6"/>
<text x="1127.36" y="1198.18" font-size="41.54" font-weight="bold">C</text>
<rect x="1273.2" y="1227.7" width="4.3" height="460.30" fill="#000"/>
<rect x="1267.6" y="1673.1" width="705.60" height="4.5" fill="#000"/>
<rect x="1267" y="1673.35" width="8" height="4" fill="#000"/>
<text x="1260.26" y="1686.46" font-size="27.40" text-anchor="end">0</text>
<rect x="1267" y="1584.24" width="8" height="4" fill="#000"/>
<text x="1260.05" y="1599.64" font-size="27.40" text-anchor="end">20</text>
<rect x="1267" y="1495.13" width="8" height="4" fill="#000"/>
<text x="1260.43" y="1510.36" font-size="27.40" text-anchor="end">40</text>
<rect x="1267" y="1406.02" width="8" height="4" fill="#000"/>
<text x="1260.02" y="1419.19" font-size="27.40" text-anchor="end">60</text>
<rect x="1267" y="1316.91" width="8" height="4" fill="#000"/>
<text x="1260.03" y="1328.72" font-size="27.40" text-anchor="end">80</text>
<rect x="1267" y="1227.80" width="8" height="4" fill="#000"/>
<text x="1260.30" y="1240.39" font-size="27.40" text-anchor="end">100</text>
<rect x="1272.70" y="1675" width="5" height="14" fill="#000"/>
<rect x="1342.54" y="1675" width="4.4" height="8" fill="#000"/>
<rect x="1411.78" y="1675" width="5" height="14" fill="#000"/>
<rect x="1481.62" y="1675" width="4.4" height="8" fill="#000"/>
<rect x="1550.86" y="1675" width="5" height="14" fill="#000"/>
<rect x="1620.70" y="1675" width="4.4" height="8" fill="#000"/>
<rect x="1689.94" y="1675" width="5" height="14" fill="#000"/>
<rect x="1759.78" y="1675" width="4.4" height="8" fill="#000"/>
<rect x="1829.02" y="1675" width="5" height="14" fill="#000"/>
<rect x="1898.86" y="1675" width="4.4" height="8" fill="#000"/>
<rect x="1968.10" y="1675" width="5" height="14" fill="#000"/>
<text x="1275.84" y="1711.32" font-size="27.40" text-anchor="middle">0</text>
<text x="1414.39" y="1711.23" font-size="27.40" text-anchor="middle">6</text>
<text x="1552.21" y="1712.03" font-size="27.40" text-anchor="middle">12</text>
<text x="1689.97" y="1712.03" font-size="27.40" text-anchor="middle">18</text>
<text x="1828.90" y="1712.03" font-size="27.40" text-anchor="middle">24</text>
<text x="1970.64" y="1711.64" font-size="27.40" text-anchor="middle">30</text>
<text x="1621.88" y="1738.33" font-size="28.04" text-anchor="middle">Months</text>
<text x="0" y="0" font-size="26.48" transform="translate(1215.77,1586.77) rotate(-90)">Cumulative Survival</text>
<text x="0" y="0" font-size="26.66" transform="translate(1212.32,1333.80) rotate(-90)">(%)</text>
<text x="1065.45" y="1745.03" font-size="27.34">Number at risk</text>
<text x="1238.78" y="1780.33" font-size="27.17" text-anchor="end">PCR</text>
<text x="1244.65" y="1826.41" font-size="27.27" text-anchor="end">Non-PCR</text>
<text x="1273.88" y="1780.53" font-size="27.40" text-anchor="middle">14</text>
<text x="1343.16" y="1780.53" font-size="27.40" text-anchor="middle">14</text>
<text x="1413.95" y="1780.53" font-size="27.40" text-anchor="middle">14</text>
<text x="1482.89" y="1780.53" font-size="27.40" text-anchor="middle">14</text>
<text x="1552.16" y="1780.53" font-size="27.40" text-anchor="middle">12</text>
<text x="1623.03" y="1779.72" font-size="27.40" text-anchor="middle">9</text>
<text x="1689.90" y="1780.06" font-size="27.40" text-anchor="middle">6</text>
<text x="1762.88" y="1780.18" font-size="27.40" text-anchor="middle">3</text>
<text x="1832.52" y="1780.53" font-size="27.40" text-anchor="middle">1</text>
<text x="1899.63" y="1779.97" font-size="27.40" text-anchor="middle">0</text>
<text x="1973.08" y="1779.87" font-size="27.40" text-anchor="middle">0</text>
<text x="1274.60" y="1825.77" font-size="27.40" text-anchor="middle">31</text>
<text x="1344.33" y="1825.77" font-size="27.40" text-anchor="middle">31</text>
<text x="1415.85" y="1825.77" font-size="27.40" text-anchor="middle">31</text>
<text x="1483.73" y="1825.77" font-size="27.40" text-anchor="middle">31</text>
<text x="1552.54" y="1825.43" font-size="27.40" text-anchor="middle">30</text>
<text x="1622.94" y="1825.50" font-size="27.40" text-anchor="middle">22</text>
<text x="1689.09" y="1825.77" font-size="27.40" text-anchor="middle">17</text>
<text x="1762.29" y="1825.77" font-size="27.40" text-anchor="middle">13</text>
<text x="1832.50" y="1825.48" font-size="27.40" text-anchor="middle">8</text>
<text x="1899.67" y="1825.47" font-size="27.40" text-anchor="middle">2</text>
<text x="1973.08" y="1825.91" font-size="27.40" text-anchor="middle">0</text>
<text x="1535.28" y="1214.75" font-size="27.44">p=0.219</text>
<polyline fill="none" stroke="#78ffc2" stroke-width="8.8" stroke-linejoin="round" points="1276,1229.5 1353,1234.9 1435,1239.5 1530,1244.1 1577,1244.3 1579,1259.6 1590.2,1276.1 1684.8,1276.1 1707.2,1299.6 1928.8,1299.6"/>
<rect x="1276" y="1225.3" width="572" height="8.5" fill="#f65f1d"/>
<rect x="1340.00" y="1519.40" width="50.00" height="8.80" fill="#f65f1d"/>
<text x="1397.46" y="1532.33" font-size="27.90">PCR</text>
<rect x="1340.00" y="1571.40" width="50.00" height="8.80" fill="#78ffc2"/>
<text x="1397.26" y="1584.51" font-size="27.55">Non-PCR</text>
</svg>
</body></html>
